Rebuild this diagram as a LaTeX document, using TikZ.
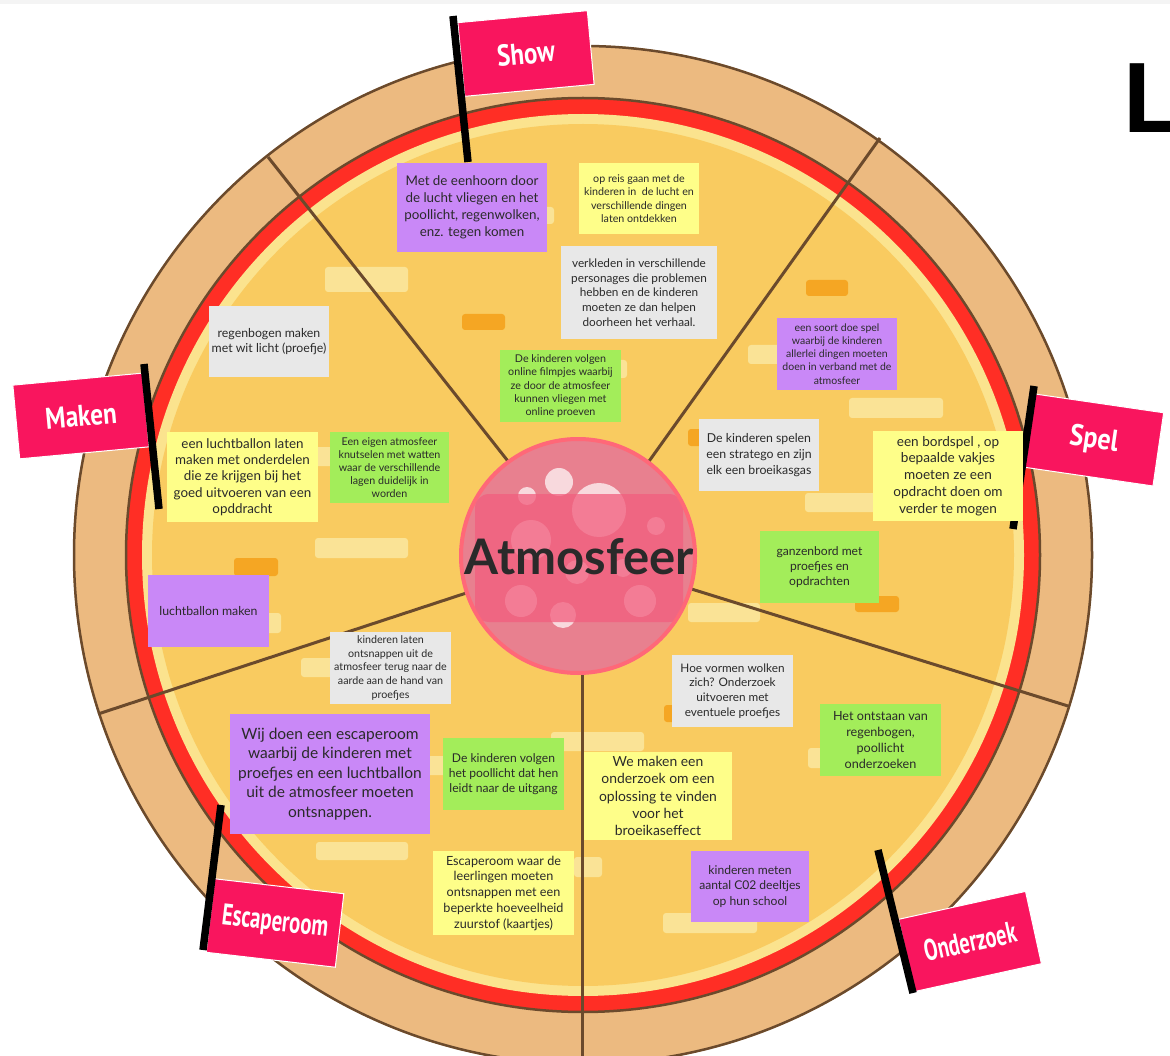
\documentclass[tikz,border=0pt]{standalone}
\usepackage{graphicx}
\usepackage{fontspec}
\setmainfont{Lato}
\newfontfamily\flagfont{PT Sans}
\newfontfamily\capfont{Liberation Sans}
\usetikzlibrary{calc}

\definecolor{crust}{HTML}{ECBA80}
\definecolor{crustline}{HTML}{6B4A2C}
\definecolor{sauce}{HTML}{FF2E25}
\definecolor{rim}{HTML}{FBE38E}
\definecolor{cheese}{HTML}{F9CB60}
\definecolor{glow}{HTML}{FAE396}
\definecolor{pep}{HTML}{F5A623}
\definecolor{notepurple}{HTML}{C988F7}
\definecolor{noteyellow}{HTML}{FEFE89}
\definecolor{notegray}{HTML}{E8E8E8}
\definecolor{notegreen}{HTML}{A3ED5A}
\definecolor{flagpink}{HTML}{F9155E}
\definecolor{ink}{HTML}{2A2A2A}
\definecolor{coreedge}{HTML}{FF6878}
\definecolor{corefill}{HTML}{E8808F}
\definecolor{corebar}{HTML}{F25E7E}
\definecolor{topband}{HTML}{F4F4F4}

% font size with a common enlargement for the sticky notes
\newcommand\notesize[2]{\fontsize{\fpeval{1.07*#1}}{\fpeval{1.05*#2}}\selectfont}
\newcommand\flagtext[2]{\scalebox{#1}[1]{#2}}

\tikzset{
  note/.style={rectangle, inner sep=0pt, align=center, text=ink},
  decor/.style={fill=glow, rounded corners=3pt},
  pepp/.style={fill=pep, rounded corners=3pt},
  flag/.style={rectangle, fill=flagpink, draw=white, line width=1pt,
    minimum width=130pt, minimum height=74pt, inner sep=0pt, text=white,
    font=\flagfont\bfseries\fontsize{30}{30}\selectfont},
  pole/.style={line width=7.5pt, black},
  slice/.style={draw=crustline, line width=3pt},
  bubble/.style={fill=white, opacity=0.7},
}

\begin{document}
\begin{tikzpicture}[x=1pt, y=-1pt]
\useasboundingbox (0,0) rectangle (1170,1056);
\fill[white] (0,0) rectangle (1170,1056);
\fill[topband] (0,0) rectangle (1170,4);

% pizza base
\coordinate (pc) at (583,555);
\fill[crust] (pc) circle[radius=510];
\draw[crustline, line width=2.5pt] (pc) circle[radius=509];
\fill[sauce] (pc) circle[radius=457];
\draw[crustline, line width=2.5pt] (pc) circle[radius=457];
\fill[rim] (pc) circle[radius=441];
\fill[cheese] (pc) circle[radius=431];

% cheese decorations
\fill[decor] (325,267) rectangle (408,292);
\fill[decor] (230,613) rectangle (281,633);
\fill[decor] (315,538) rectangle (408,558);
\fill[decor] (300,447) rectangle (340,466);
\fill[decor] (301,658) rectangle (345,677);
\fill[decor] (420,756) rectangle (450,775);
\fill[decor] (316,842) rectangle (408,860);
\fill[decor] (551,732) rectangle (644,751);
\fill[decor] (574,857) rectangle (602,877);
\fill[decor] (663,913) rectangle (757,933);
\fill[decor] (808,748) rectangle (840,768);
\fill[decor] (748,345) rectangle (790,364);
\fill[decor] (849,398) rectangle (943,418);
\fill[decor] (805,493) rectangle (880,512);
\fill[decor] (688,603) rectangle (760,622);
\fill[decor] (610,360) rectangle (627,378);
\fill[decor] (530,207) rectangle (554,224);
\fill[pepp] (462,314) rectangle (505,330);
\fill[pepp] (234,558) rectangle (278,576);
\fill[pepp] (664,705) rectangle (680,722);
\fill[pepp] (806,280) rectangle (848,296);
\fill[pepp] (688,429) rectangle (705,446);
\fill[pepp] (855,596) rectangle (899,612);

% slice cuts
\coordinate (hub) at (582,555);
\coordinate (e1) at (268,157);
\coordinate (e2) at (880,138);
\coordinate (e3) at (1068,706);
\coordinate (e4) at (582,1070);
\coordinate (e5) at (98,714);
\foreach \e in {e1,e2,e3,e4,e5} \draw[slice] (hub) -- (\e);

% centre topping
\node[circle, minimum size=234pt, fill=corefill, draw=coreedge, line width=4pt] (core) at (578,556) {};
\begin{scope}
  \clip (578,556) circle[radius=115];
  \fill[bubble] (559,482) circle[radius=14];
  \fill[bubble] (527,496) circle[radius=9];
  \fill[bubble] (599,510) circle[radius=27];
  \fill[bubble] (656,526) circle[radius=9];
  \fill[bubble] (531,540) circle[radius=20];
  \fill[bubble] (577,572) circle[radius=12];
  \fill[bubble] (623,568) circle[radius=9];
  \fill[bubble] (521,601) circle[radius=16];
  \fill[bubble] (563,615) circle[radius=13];
  \fill[bubble] (640,601) circle[radius=16];
  \fill[corebar, opacity=0.75, rounded corners=14pt] (475,494) rectangle (683,622);
\end{scope}
\node[anchor=base, inner sep=0pt, text=ink, font=\bfseries\fontsize{49}{49}\selectfont] (title) at (579,574) {Atmosfeer};

% flags
\node[flag, rotate=5.3] (fshow) at (526,53.5) {\flagtext{0.83}{Show}};
\node[flag, rotate=5.3] (fmaken) at (81,416) {\flagtext{0.84}{Maken}};
\node[flag, rotate=-8.3] (fspel) at (1094,440) {\flagtext{0.87}{Spel}};
\node[flag, rotate=12.4] (fonder) at (970,941.5) {\flagtext{0.68}{Onderzoek}};
\node[flag, rotate=-6.6] (fescape) at (275,923) {\flagtext{0.69}{Escaperoom}};
\draw[pole] (453,16) -- (468,162);
\draw[pole] (144,364) -- (159,509);
\draw[pole] (1034,386) -- (1013,529);
\draw[pole] (878,850) -- (913,993);
\draw[pole] (221,805) -- (203,950);

% sticky notes
\node[note, fill=notepurple, minimum width=150pt, minimum height=89pt, font=\notesize{12.5}{16.3}] (n1) at (472,207.5)
  {Met de eenhoorn door\\de lucht vliegen en het\\poollicht, regenwolken,\\enz. tegen komen};
\node[note, fill=noteyellow, minimum width=120pt, minimum height=71pt, font=\notesize{10}{12.7}] (n2) at (639,198.5)
  {op reis gaan met de\\kinderen in\ \ de lucht en\\verschillende dingen\\laten ontdekken};
\node[note, fill=notegray, minimum width=156pt, minimum height=93pt, font=\notesize{11}{14}] (n3) at (639,292.5)
  {verkleden in verschillende\\personages die problemen\\hebben en de kinderen\\moeten ze dan helpen\\doorheen het verhaal.};
\node[note, fill=notegreen, minimum width=121pt, minimum height=72pt, font=\notesize{10}{12.5}] (n4) at (560.5,386)
  {De kinderen volgen\\online filmpjes waarbij\\ze door de atmosfeer\\kunnen vliegen met\\online proeven};
\node[note, fill=notegray, minimum width=120pt, minimum height=71pt, font=\notesize{11.5}{14.5}] (n5) at (269,341.5)
  {regenbogen maken\\met wit licht (proefje)};
\node[note, fill=noteyellow, minimum width=151pt, minimum height=90pt, font=\notesize{12.5}{15.5}] (n6) at (242.5,477)
  {een luchtballon laten\\maken met onderdelen\\die ze krijgen bij het\\goed uitvoeren van een\\opddracht};
\node[note, fill=notegreen, minimum width=119pt, minimum height=71pt, font=\notesize{10}{12.5}] (n7) at (389.5,467.5)
  {Een eigen atmosfeer\\knutselen met watten\\waar de verschillende\\lagen duidelijk in\\worden};
\node[note, fill=notepurple, minimum width=120pt, minimum height=72pt, font=\notesize{9.8}{12.5}] (n8) at (837,354)
  {een soort doe spel\\waarbij de kinderen\\allerlei dingen moeten\\doen in verband met de\\atmosfeer};
\node[note, fill=notegray, minimum width=120pt, minimum height=72pt, font=\notesize{11.5}{15}] (n9) at (759,455)
  {De kinderen spelen\\een stratego en zijn\\elk een broeikasgas};
\node[note, fill=noteyellow, minimum width=150pt, minimum height=90pt, font=\notesize{12.7}{16}] (n10) at (948,476)
  {een bordspel , op\\bepaalde vakjes\\moeten ze een\\opdracht doen om\\verder te mogen};
\node[note, fill=notegreen, minimum width=119pt, minimum height=72pt, font=\notesize{11.3}{14.5}] (n11) at (819.5,567)
  {ganzenbord met\\proefjes en\\opdrachten};
\node[note, fill=notepurple, minimum width=121pt, minimum height=72pt, font=\notesize{11.5}{14.5}] (n12) at (208.5,611)
  {luchtballon maken};
\node[note, fill=notegray, minimum width=121pt, minimum height=72pt, font=\notesize{10}{13}] (n13) at (390.5,668)
  {kinderen laten\\ontsnappen uit de\\atmosfeer terug naar de\\aarde aan de hand van\\proefjes};
\node[note, fill=notepurple, minimum width=200pt, minimum height=120pt, font=\notesize{14.5}{18.5}] (n14) at (330,774)
  {Wij doen een escaperoom\\waarbij de kinderen met\\proefjes en een luchtballon\\uit de atmosfeer moeten\\ontsnappen.};
\node[note, fill=notegreen, minimum width=121pt, minimum height=72pt, font=\notesize{11.3}{14.5}] (n15) at (503.5,774)
  {De kinderen volgen\\het poollicht dat hen\\leidt naar de uitgang};
\node[note, fill=noteyellow, minimum width=148pt, minimum height=88pt, font=\notesize{13}{16.3}] (n16) at (658,796)
  {We maken een\\onderzoek om een\\oplossing te vinden\\voor het\\broeikaseffect};
\node[note, fill=noteyellow, minimum width=141pt, minimum height=84pt, font=\notesize{11.8}{15}] (n17) at (503.5,893)
  {Escaperoom waar de\\leerlingen moeten\\ontsnappen met een\\beperkte hoeveelheid\\zuurstof (kaartjes)};
\node[note, fill=notepurple, minimum width=118pt, minimum height=71pt, font=\notesize{11.3}{14.5}] (n18) at (750,886.5)
  {kinderen meten\\aantal C02 deeltjes\\op hun school};
\node[note, fill=notegray, minimum width=121pt, minimum height=72pt, font=\notesize{11}{14}] (n19) at (732.5,691)
  {Hoe vormen wolken\\zich? Onderzoek\\uitvoeren met\\eventuele proefjes};
\node[note, fill=notegreen, minimum width=121pt, minimum height=72pt, font=\notesize{11.8}{15}] (n20) at (880.5,740)
  {Het ontstaan van\\regenbogen,\\poollicht\\onderzoeken};

% heading letter at the edge
\node[anchor=base west, inner sep=0pt, font=\capfont\bfseries\fontsize{100}{100}\selectfont] (head) at (1123,133) {L};
\end{tikzpicture}
\end{document}
